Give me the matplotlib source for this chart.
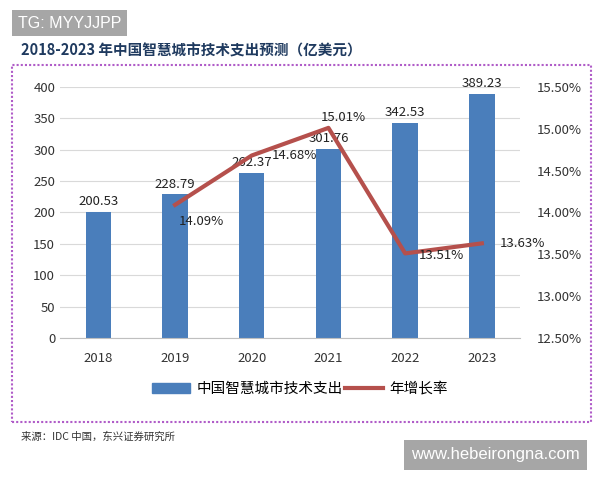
import matplotlib.pyplot as plt
import numpy as np
from matplotlib.patches import Rectangle

plt.rcParams['font.family'] = ['Noto Sans CJK SC', 'DejaVu Sans']

years = ["2018", "2019", "2020", "2021", "2022", "2023"]
spend = [200.53, 228.79, 262.37, 301.76, 342.53, 389.23]
growth_years = ["2019", "2020", "2021", "2022", "2023"]
growth = [14.09, 14.68, 15.01, 13.51, 13.63]
growth_labels = ["14.09%", "14.68%", "15.01%", "13.51%", "13.63%"]

bar_color = "#4a7ebb"
line_color = "#b5504c"

fig = plt.figure(figsize=(6, 4.8), dpi=100)
fig.patch.set_facecolor("white")

ax = fig.add_axes([0.1, 0.296, 0.767, 0.523])
x = np.arange(len(years))
ax.bar(x, spend, width=0.33, color=bar_color, zorder=2)
for xi, v in zip(x, spend):
    ax.text(xi, v + 6, f"{v:.2f}", ha="center", va="bottom", fontsize=9.5,
            color="#222222", zorder=5)

ax.set_ylim(0, 400)
ax.set_yticks(range(0, 401, 50))
ax.set_xlim(-0.5, len(years) - 0.5)
ax.set_xticks(x)
ax.set_xticklabels(years)
ax.tick_params(length=0, labelsize=9.5, colors="#333333")
ax.tick_params(axis="x", pad=10)
ax.grid(axis="y", color="#d9d9d9", linewidth=0.8, zorder=0)
for s in ["top", "left", "right"]:
    ax.spines[s].set_visible(False)
ax.spines["bottom"].set_color("#bfbfbf")

ax2 = ax.twinx()
gx = [years.index(g) for g in growth_years]
ax2.plot(gx, growth, color=line_color, linewidth=3, zorder=3)
ax2.set_ylim(12.5, 15.5)
ax2.set_yticks(np.arange(12.5, 15.51, 0.5))
ax2.set_yticklabels([f"{t:.2f}%" for t in np.arange(12.5, 15.51, 0.5)])
ax2.tick_params(length=0, labelsize=9.5, colors="#333333", pad=12)
for s in ["top", "left", "right", "bottom"]:
    ax2.spines[s].set_visible(False)

offsets = [(0.05, -0.2), (0.26, 0.0), (-0.1, 0.13), (0.18, -0.03), (0.24, 0.0)]
for xi, v, lab, (dx, dy) in zip(gx, growth, growth_labels, offsets):
    ax2.text(xi + dx, v + dy, lab, ha="left", va="center", fontsize=9.5,
             color="#222222", zorder=6)

# legend
handles = [Rectangle((0, 0), 1, 1, color=bar_color),
           plt.Line2D([0], [0], color=line_color, linewidth=3)]
fig.legend(handles, ["中国智慧城市技术支出", "年增长率"], loc="center",
           bbox_to_anchor=(0.5, 0.19), ncol=2, frameon=False, fontsize=10.5,
           handlelength=2.6, columnspacing=0.2, handletextpad=0.4)

# title and dashed frame
fig.text(0.035, 0.895, "2018-2023 年中国智慧城市技术支出预测（亿美元）", fontsize=10.5,
         fontweight="bold", color="#1f3a5f", va="center")
fig.patches.append(Rectangle((0.02, 0.12), 0.965, 0.745, transform=fig.transFigure,
                             fill=False, edgecolor="#b05cc8", linewidth=1.5,
                             linestyle=(0, (1, 1))))
fig.text(0.035, 0.09, "来源：IDC 中国，东兴证券研究所", fontsize=7.5, style="italic",
         color="#333333", va="center")

# watermarks
fig.text(0.03, 0.952, "TG: MYYJJPP", fontsize=11.5, color="white", va="center",
         family="Liberation Sans",
         bbox=dict(boxstyle="square,pad=0.35", facecolor="#a6a6a6", edgecolor="none"))
fig.text(0.685, 0.053, "www.hebeirongna.com", fontsize=12, color="white", va="center",
         family="Liberation Sans",
         bbox=dict(boxstyle="square,pad=0.45", facecolor="#a6a6a6", edgecolor="none"))

fig.savefig("out.png", dpi=100, facecolor="white")
